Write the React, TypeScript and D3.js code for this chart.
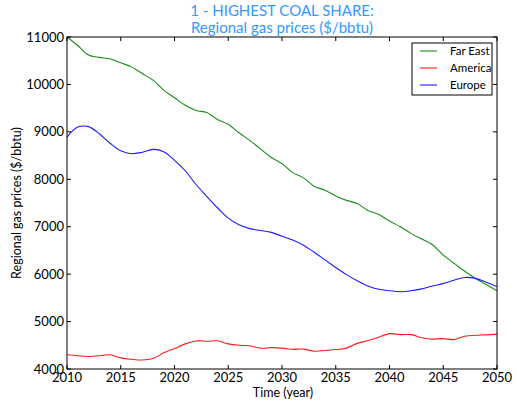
import React from "react";
import * as d3 from "d3";

const years = d3.range(2010, 2051);
const farEast = [11000, 10820, 10620, 10570, 10540, 10455, 10370, 10230, 10090, 9880, 9720, 9560, 9450, 9410, 9260, 9160, 8980, 8820, 8640, 8460, 8330, 8140, 8030, 7850, 7770, 7650, 7555, 7490, 7340, 7260, 7120, 7000, 6860, 6740, 6620, 6400, 6230, 6060, 5910, 5780, 5650];
const america = [4300, 4280, 4265, 4280, 4300, 4235, 4205, 4190, 4220, 4340, 4430, 4530, 4590, 4585, 4595, 4530, 4500, 4490, 4440, 4450, 4440, 4415, 4420, 4375, 4390, 4410, 4440, 4540, 4600, 4670, 4745, 4725, 4725, 4660, 4630, 4640, 4620, 4690, 4710, 4720, 4735];
const europe = [8890, 9100, 9110, 8960, 8760, 8600, 8540, 8570, 8630, 8580, 8400, 8180, 7890, 7640, 7400, 7180, 7040, 6960, 6920, 6880, 6800, 6720, 6610, 6460, 6300, 6140, 5990, 5860, 5750, 5680, 5650, 5630, 5650, 5690, 5750, 5800, 5870, 5930, 5910, 5830, 5740];
const seriesNames = ["Far East", "America", "Europe"];
const seriesColors = ["#1a8c1a", "#ff1a1a", "#1a1aff"];
const xTicks = [2010, 2015, 2020, 2025, 2030, 2035, 2040, 2045, 2050];
const yTicks = [4000, 5000, 6000, 7000, 8000, 9000, 10000, 11000];
const titleLines = ["1 - HIGHEST COAL SHARE:", "Regional gas prices ($/bbtu)"];

const W = 517, H = 404;
const L = 67, R = 497, T = 37, B = 369;
const font = "Lato, 'Open Sans', sans-serif";

export default function App() {
  const x = d3.scaleLinear().domain([2010, 2050]).range([L, R]);
  const y = d3.scaleLinear().domain([4000, 11000]).range([B, T]);
  const data = [farEast, america, europe];
  const line = d3
    .line<number>()
    .x((_, i) => x(years[i]))
    .y((d) => y(d))
    .curve(d3.curveCatmullRom);
  return (
    <svg width={W} height={H} style={{ position: "absolute", left: 0, top: 0, background: "#fff" }}>
      <rect x={0} y={0} width={W} height={H} fill="#fff" />
      {titleLines.map((t, i) => (
        <text key={i} x={282} y={16 + i * 16.5} textAnchor="middle" fontFamily={font} fontSize={15} fill="#3399ff">
          {t}
        </text>
      ))}
      <g>
        {data.map((d, i) => (
          <path key={i} d={line(d) || ""} fill="none" stroke={seriesColors[i]} strokeWidth={1.1} />
        ))}
      </g>
      <rect x={L} y={T} width={R - L} height={B - T} fill="none" stroke="#000" strokeWidth={1} />
      {xTicks.map((t) => (
        <g key={t}>
          <line x1={x(t)} x2={x(t)} y1={B} y2={B - 4} stroke="#000" />
          <line x1={x(t)} x2={x(t)} y1={T} y2={T + 4} stroke="#000" />
          <text x={x(t)} y={382} textAnchor="middle" fontFamily={font} fontSize={13} fill="#000">
            {t}
          </text>
        </g>
      ))}
      {yTicks.map((t) => (
        <g key={t}>
          <line x1={L} x2={L + 4} y1={y(t)} y2={y(t)} stroke="#000" />
          <line x1={R} x2={R - 4} y1={y(t)} y2={y(t)} stroke="#000" />
          <text x={L - 3} y={y(t) + 4.5} textAnchor="end" fontFamily={font} fontSize={13} fill="#000">
            {t}
          </text>
        </g>
      ))}
      <text x={283} y={397} textAnchor="middle" fontFamily={font} fontSize={12.5} fill="#000">
        Time (year)
      </text>
      <text
        transform={`translate(21,${(T + B) / 2}) rotate(-90)`}
        textAnchor="middle"
        fontFamily={font}
        fontSize={12.5}
        fill="#000"
      >
        Regional gas prices ($/bbtu)
      </text>
      <g>
        <rect x={412} y={43} width={80} height={52} fill="#fff" stroke="#000" strokeWidth={1} />
        {seriesNames.map((n, i) => (
          <g key={n}>
            <line x1={420} x2={437} y1={51 + i * 17} y2={51 + i * 17} stroke={seriesColors[i]} strokeWidth={1.1} />
            <text x={450} y={55 + i * 17} fontFamily={font} fontSize={11.5} fill="#000">
              {n}
            </text>
          </g>
        ))}
      </g>
    </svg>
  );
}
